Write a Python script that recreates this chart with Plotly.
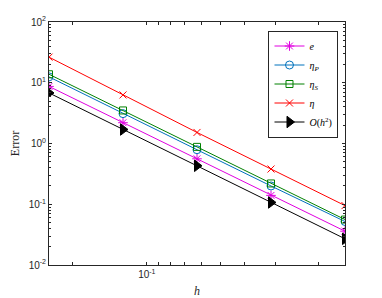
import plotly.graph_objects as go

h = [0.04, 0.08, 0.16, 0.32, 0.64]
err_e = [8.7, 2.2, 0.56, 0.14, 0.036]
err_etaP = [12.5, 3.1, 0.79, 0.2, 0.052]
err_etaS = [13.8, 3.5, 0.88, 0.22, 0.056]
err_eta = [26.4, 6.3, 1.52, 0.38, 0.095]
err_ref = [6.8, 1.7, 0.43, 0.107, 0.027]

series = [
    ("<i>e</i>", err_e, "#E000E0", "asterisk-open", 8),
    ("<i>η</i><sub><i>P</i></sub>", err_etaP, "#0072BD", "circle-open", 8),
    ("<i>η</i><sub><i>S</i></sub>", err_etaS, "#008000", "square-open", 7),
    ("<i>η</i>", err_eta, "#FF0000", "x-thin-open", 7),
    ("<i>O</i>(<i>h</i><sup>2</sup>)", err_ref, "#000000", "triangle-right", 10),
]

y_ticks = [0.01, 0.1, 1, 10, 100]
y_ticktext = ["10<sup>-2</sup>", "10<sup>-1</sup>", "10<sup>0</sup>", "10<sup>1</sup>", "10<sup>2</sup>"]
x_ticks = [0.1]
x_ticktext = ["10<sup>-1</sup>"]
x_minor = [0.05, 1/9, 1/8, 1/7, 1/6, 0.2, 0.25, 1/3, 0.5]
y_minor = [m * 10 ** e for e in range(-2, 2) for m in range(2, 10)]

fig = go.Figure()
for name, vals, col, sym, sz in series:
    fig.add_trace(go.Scatter(
        x=h, y=vals, name=name, mode="lines+markers",
        line=dict(color=col, width=1),
        marker=dict(symbol=sym, size=sz, color=col, line=dict(color=col, width=1)),
    ))

axcol = "#262626"
fig.update_layout(
    width=382, height=298,
    margin=dict(l=49, r=37, t=22, b=33, autoexpand=False),
    paper_bgcolor="white", plot_bgcolor="white",
    showlegend=True,
    legend=dict(
        x=0.978, y=0.965, xanchor="right", yanchor="top",
        bgcolor="white", bordercolor=axcol, borderwidth=1,
        font=dict(family="Liberation Serif", size=10, color="black"),
        itemwidth=30, tracegroupgap=0,
    ),
    font=dict(family="Liberation Sans", size=10, color=axcol),
)
fig.update_xaxes(
    type="log", range=[-1.39794, -0.19382], automargin=False,
    tickvals=x_ticks, ticktext=x_ticktext,
    ticks="inside", ticklen=3, tickcolor=axcol,
    showline=True, linecolor=axcol, linewidth=1, mirror="ticks",
    showgrid=False, zeroline=False,
    minor=dict(tickvals=x_minor, ticks="inside", ticklen=3, tickcolor=axcol, showgrid=False),
    title=dict(text="<i>h</i>", font=dict(family="Liberation Serif", size=12, color=axcol), standoff=7),
)
fig.update_yaxes(
    type="log", range=[-2, 2], automargin=False,
    tickvals=y_ticks, ticktext=y_ticktext,
    ticks="inside", ticklen=3, tickcolor=axcol,
    showline=True, linecolor=axcol, linewidth=1, mirror="ticks",
    showgrid=False, zeroline=False,
    minor=dict(tickvals=y_minor, ticks="inside", ticklen=2, tickcolor=axcol, showgrid=False),
    title=dict(text="Error", font=dict(family="Liberation Serif", size=12, color=axcol), standoff=6),
)
fig.write_html("out.html", config={"displayModeBar": False},
               post_script="document.body.style.margin='0';")
